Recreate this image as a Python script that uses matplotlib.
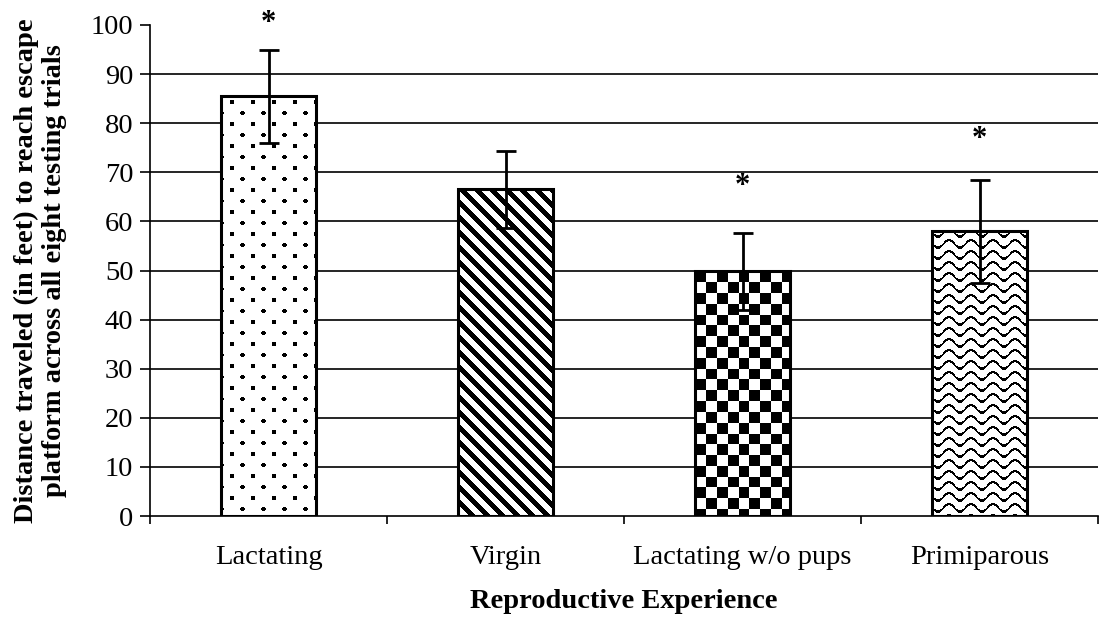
#!/usr/bin/env python3
from __future__ import annotations

import matplotlib

matplotlib.use("Agg")
import matplotlib.pyplot as plt
import numpy as np

groups = ["Lactating", "Virgin", "Lactating w/o pups", "Primiparous"]
mean_distance = [85.5, 66.5, 49.8, 58.0]
sem_distance = [9.5, 7.8, 7.8, 10.5]
# significance markers: group index -> height of the asterisk (data units)
star_groups = [0, 2, 3]
star_at = [100.3, 67.0, 76.7]
y_ticks = list(range(0, 101, 10))


def texture(kind: str, w: int, h: int) -> np.ndarray:
    """Greyscale pattern (1 = white, 0 = black) in screen pixels."""
    rows, cols = np.mgrid[0:h, 0:w].astype(float)
    ink = np.zeros((h, w), dtype=bool)
    if kind == "dots":
        step_x, step_y = 21.0, 11.0
        r_idx = np.floor(rows / step_y)
        shift = np.where(r_idx % 2 == 0, 0.0, step_x / 2)
        dx = (cols + shift) % step_x - step_x / 2
        dy = rows % step_y - step_y / 2
        ink = dx**2 + dy**2 <= 2.3**2
    elif kind == "stripes":
        ink = ((cols - rows) % 15.0) < 6.5
    elif kind == "checker":
        s = 10.8
        ink = ((np.floor(cols / s) + np.floor(rows / s)) % 2) == 0
    elif kind == "waves":
        d = (rows - 3.8 * np.sin(2 * np.pi * cols / 22.0)) % 11.0
        ink = d < 2.6
    return np.where(ink, 0.0, 1.0)


def main() -> int:
    plt.rcParams.update(
        {
            "font.family": "serif",
            "font.serif": ["Liberation Serif", "DejaVu Serif"],
            "font.size": 20,
            "axes.linewidth": 1.2,
            "figure.facecolor": "white",
            "axes.facecolor": "white",
        }
    )

    fig = plt.figure(figsize=(11.04, 6.29), dpi=100)
    ax = fig.add_axes([150 / 1104, 1 - 516 / 629, 948 / 1104, 491 / 629])

    x = np.arange(len(groups))
    width = 0.4
    ax.set_xlim(-0.5, len(groups) - 0.5)
    ax.set_ylim(0, 100)

    bars = ax.bar(x, mean_distance, width=width, color="white", edgecolor="none", zorder=2)
    kinds = ["dots", "stripes", "checker", "waves"]
    for bar, kind in zip(bars, kinds):
        x0, x1 = bar.get_x(), bar.get_x() + bar.get_width()
        top = bar.get_height()
        p0 = ax.transData.transform((x0, 0))
        p1 = ax.transData.transform((x1, top))
        w_px = max(int(round(p1[0] - p0[0])), 1)
        h_px = max(int(round(p1[1] - p0[1])), 1)
        img = ax.imshow(
            texture(kind, w_px, h_px),
            extent=(x0, x1, 0, top),
            cmap="gray",
            vmin=0,
            vmax=1,
            interpolation="nearest",
            aspect="auto",
            zorder=2.5,
        )
        img.set_clip_path(bar)
    ax.bar(x, mean_distance, width=width, fill=False, edgecolor="black", linewidth=2.2, zorder=3)

    ax.errorbar(
        x, mean_distance, yerr=sem_distance, fmt="none", ecolor="black",
        elinewidth=2.0, capsize=7, capthick=2.0, zorder=4,
    )

    for g, y in zip(star_groups, star_at):
        ax.text(x[g], y - 1.5, "*", ha="center", va="baseline", fontsize=22,
                fontweight="bold", clip_on=False)

    ax.set_xlim(-0.5, len(groups) - 0.5)
    ax.set_ylim(0, 100)

    ax.set_yticks(y_ticks)
    ax.tick_params(axis="y", direction="out", length=7, width=1.2, pad=5, labelsize=20.5)
    ax.yaxis.grid(True, color="black", linewidth=1.2, zorder=1)
    ax.set_axisbelow(True)
    ax.get_ygridlines()[-1].set_visible(False)
    ax.get_ygridlines()[0].set_visible(False)

    ax.set_xticks(x)
    ax.set_xticklabels(groups)
    ax.set_xticks(np.arange(-0.5, len(groups)), minor=True)
    ax.tick_params(axis="x", which="major", length=0, pad=21, labelsize=20.5)
    ax.tick_params(axis="x", which="minor", direction="out", length=6, width=1.2)

    ax.spines["top"].set_visible(False)
    ax.spines["right"].set_visible(False)

    ax.set_ylabel(
        "Distance traveled (in feet) to reach escape\nplatform across all eight testing trials",
        fontweight="bold", fontsize=20.5, linespacing=1.15,
    )
    ax.yaxis.set_label_coords(-0.088, 0.50)
    ax.set_xlabel("Reproductive Experience", fontweight="bold", fontsize=20.5)
    ax.xaxis.set_label_coords(0.5, -0.148)

    fig.savefig("out.png", dpi=100)
    return 0


if __name__ == "__main__":
    raise SystemExit(main())
